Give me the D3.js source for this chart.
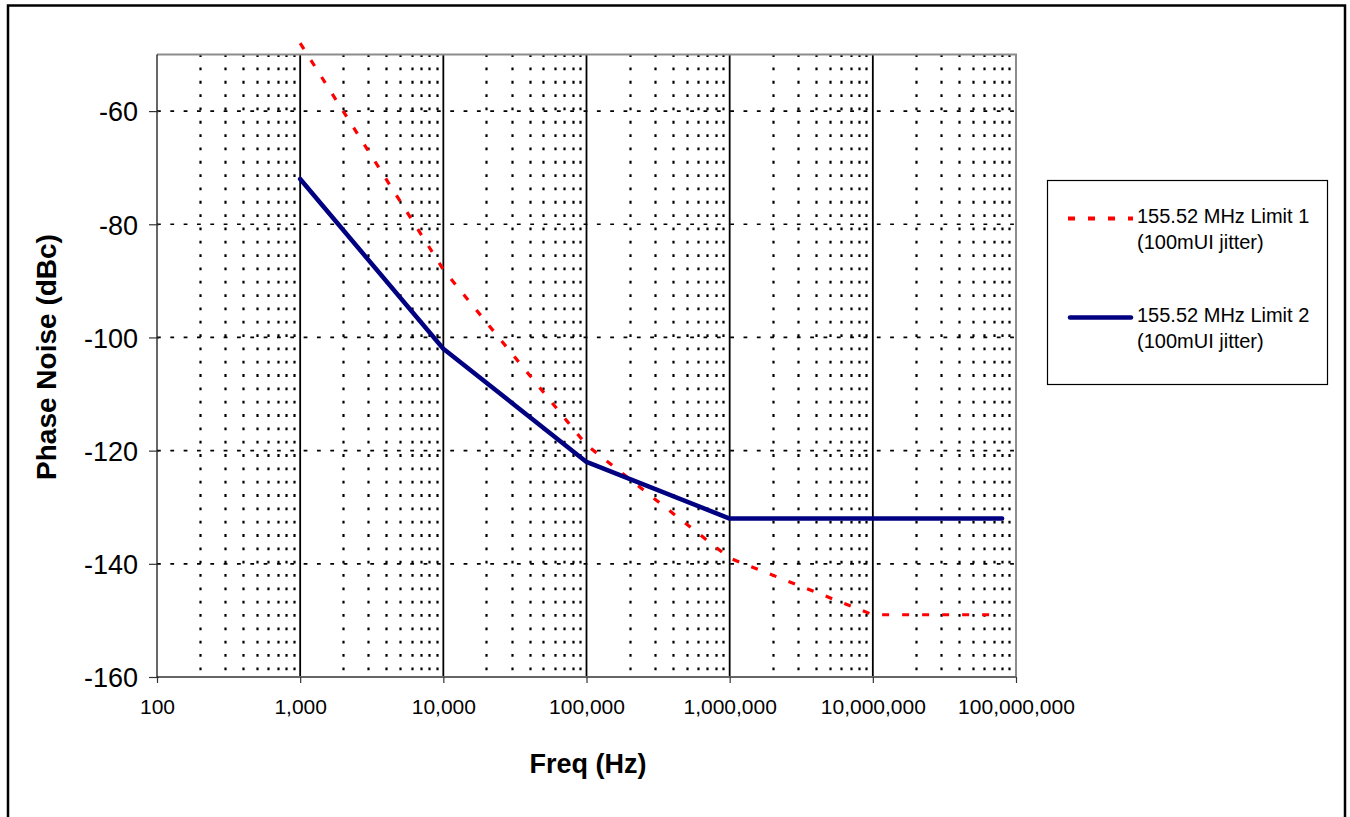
<!DOCTYPE html>
<html>
<head>
<meta charset="utf-8">
<script src="https://cdn.jsdelivr.net/npm/d3@7"></script>
<style>
  body { margin: 0; background: #fff; }
  text { font-family: "Liberation Sans", Arial, Helvetica, sans-serif; fill: #000; }
</style>
</head>
<body>
<div class="chart"></div>
<script>
// Data
var limit1Freq = [1000, 10000, 100000, 1000000, 10000000, 80000000];
var limit1Noise = [-48, -88, -119, -139, -149, -149];
var limit2Freq = [1000, 10000, 100000, 1000000, 80000000];
var limit2Noise = [-72, -102, -122, -132, -132];
var seriesNames = [["155.52 MHz Limit 1", "(100mUI jitter)"], ["155.52 MHz Limit 2", "(100mUI jitter)"]];
var xTicks = [100, 1000, 10000, 100000, 1000000, 10000000, 100000000];
var yTicks = [-160, -140, -120, -100, -80, -60];

// Setup chart
var svgWidth = 1350;
var svgHeight = 817;
var plot = { left: 157, right: 1016, top: 54.5, bottom: 677 };

var svg = d3.select(".chart")
  .append("svg")
  .attr("width", svgWidth)
  .attr("height", svgHeight);

svg.append("rect")
  .attr("width", svgWidth)
  .attr("height", svgHeight)
  .attr("fill", "#fff");

// outer frame (bottom edge runs off the picture)
svg.append("rect")
  .attr("x", 8)
  .attr("y", 5.5)
  .attr("width", 1337)
  .attr("height", 830)
  .attr("fill", "none")
  .attr("stroke", "#000")
  .attr("stroke-width", 2.5);

// Scales
var xLogScale = d3.scaleLog()
  .domain([100, 100000000])
  .range([plot.left, plot.right]);
var yLinearScale = d3.scaleLinear()
  .domain([-160, -50])
  .range([plot.bottom, plot.top]);

var chart = svg.append("g");

// minor vertical gridlines (2..9 of each decade), dotted
var minorTicks = [];
for (var d = 0; d < xTicks.length - 1; d++) {
  for (var k = 2; k <= 9; k++) minorTicks.push(xTicks[d] * k);
}
chart.append("g")
  .selectAll("line")
  .data(minorTicks)
  .enter().append("line")
    .attr("x1", function(f) { return Math.round(xLogScale(f)) + 0.5; })
    .attr("x2", function(f) { return Math.round(xLogScale(f)) + 0.5; })
    .attr("y1", plot.top)
    .attr("y2", plot.bottom)
    .attr("stroke", "#000")
    .attr("stroke-width", 2.2)
    .attr("stroke-dasharray", "2.8,10.53")
    .attr("stroke-dashoffset", 0.3);

// horizontal gridlines, dashed
chart.append("g")
  .selectAll("line")
  .data(yTicks.filter(function(v) { return v > -160; }))
  .enter().append("line")
    .attr("x1", plot.left)
    .attr("x2", plot.right)
    .attr("y1", function(v) { return yLinearScale(v); })
    .attr("y2", function(v) { return yLinearScale(v); })
    .attr("stroke", "#000")
    .attr("stroke-width", 1.7)
    .attr("stroke-dasharray", "3.8,9.53");

// major vertical gridlines at each decade, solid
chart.append("g")
  .selectAll("line")
  .data(xTicks.slice(1, -1))
  .enter().append("line")
    .attr("x1", function(f) { return xLogScale(f); })
    .attr("x2", function(f) { return xLogScale(f); })
    .attr("y1", plot.top)
    .attr("y2", plot.bottom)
    .attr("stroke", "#000")
    .attr("stroke-width", 1.8);

// plot area border (top / right in grey)
chart.append("path")
  .attr("d", "M" + plot.left + "," + plot.top + "H" + plot.right + "V" + plot.bottom)
  .attr("fill", "none")
  .attr("stroke", "#8c8c8c")
  .attr("stroke-width", 2);

// Axes
var bottomAxis = d3.axisBottom(xLogScale)
  .tickValues(xTicks)
  .tickSize(6)
  .tickFormat(d3.format(","));
var leftAxis = d3.axisLeft(yLinearScale)
  .tickValues(yTicks)
  .tickSize(8)
  .tickFormat(function(v) { return v; });

var xAxisG = chart.append("g")
  .attr("transform", "translate(0," + plot.bottom + ")")
  .call(bottomAxis);
xAxisG.select(".domain")
  .attr("d", "M" + plot.left + ",0H" + plot.right)
  .attr("stroke", "#666")
  .attr("stroke-width", 2);
xAxisG.selectAll(".tick line").attr("stroke", "#333").attr("stroke-width", 1.2);
xAxisG.selectAll(".tick text")
  .attr("y", 37)
  .attr("dy", 0)
  .style("font-size", "21px")
  .style("font-family", "'Liberation Sans', Arial, sans-serif");

var yAxisG = chart.append("g")
  .attr("transform", "translate(" + plot.left + ",0)")
  .call(leftAxis);
yAxisG.select(".domain")
  .attr("d", "M0," + plot.top + "V" + plot.bottom)
  .attr("stroke", "#000")
  .attr("stroke-width", 1.2);
yAxisG.selectAll(".tick line").attr("x2", -8).attr("x1", 2).attr("stroke", "#333").attr("stroke-width", 1.2);
yAxisG.selectAll(".tick text")
  .attr("x", -19)
  .attr("dy", "0.36em")
  .style("font-size", "27px")
  .style("font-family", "'Liberation Sans', Arial, sans-serif");

// Lines
var line = d3.line()
  .x(function(p) { return xLogScale(p[0]); })
  .y(function(p) { return yLinearScale(p[1]); });

chart.append("path")
  .datum(d3.zip(limit1Freq, limit1Noise))
  .attr("d", line)
  .attr("fill", "none")
  .attr("stroke", "#ff0000")
  .attr("stroke-width", 3.2)
  .attr("stroke-dasharray", "7,13");

chart.append("path")
  .datum(d3.zip(limit2Freq, limit2Noise))
  .attr("d", line)
  .attr("fill", "none")
  .attr("stroke", "#000080")
  .attr("stroke-width", 4.5)
  .attr("stroke-linejoin", "round")
  .attr("stroke-linecap", "round");

// Axis titles
chart.append("text")
  .attr("transform", "translate(56,357) rotate(-90)")
  .attr("text-anchor", "middle")
  .style("font-size", "28px")
  .style("font-weight", "bold")
  .text("Phase Noise (dBc)");

chart.append("text")
  .attr("x", 588)
  .attr("y", 773)
  .attr("text-anchor", "middle")
  .style("font-size", "27px")
  .style("font-weight", "bold")
  .text("Freq (Hz)");

// Legend
var legend = svg.append("g");
legend.append("rect")
  .attr("x", 1047.5)
  .attr("y", 180.5)
  .attr("width", 280)
  .attr("height", 204)
  .attr("fill", "#fff")
  .attr("stroke", "#000")
  .attr("stroke-width", 1.2);

var legendStyles = [
  { color: "#ff0000", width: 4, dash: "7,13", cap: "butt" },
  { color: "#000080", width: 4.5, dash: null, cap: "round" }
];
var legendRowY = [218.5, 317.5];

seriesNames.forEach(function(name, i) {
  var st = legendStyles[i];
  legend.append("line")
    .attr("x1", i === 0 ? 1068 : 1070)
    .attr("x2", i === 0 ? 1133 : 1131)
    .attr("y1", legendRowY[i])
    .attr("y2", legendRowY[i])
    .attr("stroke", st.color)
    .attr("stroke-width", st.width)
    .attr("stroke-linecap", st.cap)
    .attr("stroke-dasharray", st.dash);
  var t = legend.append("text")
    .attr("x", 1137)
    .attr("y", legendRowY[i] + 4.5)
    .style("font-size", "20px");
  t.append("tspan").attr("x", 1137).text(name[0]);
  t.append("tspan").attr("x", 1137).attr("dy", 25.5).text(name[1]);
});
</script>
</body>
</html>
